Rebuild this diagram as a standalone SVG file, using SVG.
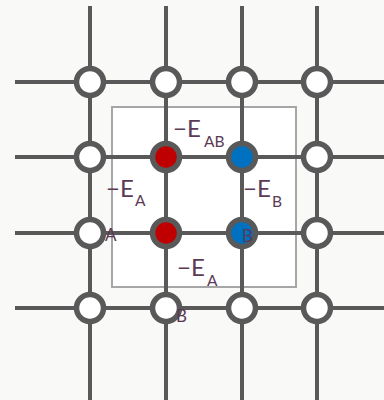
<svg xmlns="http://www.w3.org/2000/svg" width="384" height="400" viewBox="0 0 384 400">
<style>
.bg{fill:#f9f9f8}
.box{fill:#ffffff;stroke:#a6a6a6;stroke-width:2}
.ln{stroke:#595959;stroke-width:4;fill:none}
.site{fill:#ffffff;stroke:#595959;stroke-width:5.5}
.red{fill:#c00000;stroke:#595959;stroke-width:5.5}
.blue{fill:#0070c0;stroke:#595959;stroke-width:5.5}
.t{font-family:Lato,"Open Sans","Liberation Sans",sans-serif;fill:#5b3a55}
.big{font-size:24px}
.sub{font-size:15.5px}
.sm{font-size:17px}
</style>
<rect class="bg" x="0" y="0" width="384" height="400"/>
<rect class="box" x="112" y="107" width="184" height="180"/>
<g id="connectors">
<line class="ln" x1="90" y1="6" x2="90" y2="400"/>
<line class="ln" x1="166" y1="6" x2="166" y2="400"/>
<line class="ln" x1="242" y1="6" x2="242" y2="400"/>
<line class="ln" x1="317" y1="6" x2="317" y2="400"/>
<line class="ln" x1="15" y1="82" x2="384" y2="82"/>
<line class="ln" x1="15" y1="157" x2="384" y2="157"/>
<line class="ln" x1="15" y1="233" x2="384" y2="233"/>
<line class="ln" x1="15" y1="308" x2="384" y2="308"/>
</g>
<g id="n11"><circle class="site" cx="90" cy="82" r="13.5"/></g>
<g id="n12"><circle class="site" cx="166" cy="82" r="13.5"/></g>
<g id="n13"><circle class="site" cx="242" cy="82" r="13.5"/></g>
<g id="n14"><circle class="site" cx="317" cy="82" r="13.5"/></g>
<g id="n21"><circle class="site" cx="90" cy="157" r="13.5"/></g>
<g id="n22"><circle class="red" cx="166" cy="157" r="13.5"/></g>
<g id="n23"><circle class="blue" cx="242" cy="157" r="13.5"/></g>
<g id="n24"><circle class="site" cx="317" cy="157" r="13.5"/></g>
<g id="n31"><circle class="site" cx="90" cy="233" r="13.5"/><text class="t sm" x="105" y="241">A</text></g>
<g id="n32"><circle class="red" cx="166" cy="233" r="13.5"/></g>
<g id="n33"><circle class="blue" cx="242" cy="233" r="13.5"/><text class="t sm" x="242" y="242">B</text></g>
<g id="n34"><circle class="site" cx="317" cy="233" r="13.5"/></g>
<g id="n41"><circle class="site" cx="90" cy="308" r="13.5"/></g>
<g id="n42"><circle class="site" cx="166" cy="308" r="13.5"/><text class="t sm" x="176" y="322">B</text></g>
<g id="n43"><circle class="site" cx="242" cy="308" r="13.5"/></g>
<g id="n44"><circle class="site" cx="317" cy="308" r="13.5"/></g>
<g id="labels">
<text class="t big" x="173" y="137">−E</text><text class="t sub" x="204" y="147">AB</text>
<text class="t big" x="106" y="197">−E</text><text class="t sub" x="135" y="206">A</text>
<text class="t big" x="243" y="197">−E</text><text class="t sub" x="272" y="207">B</text>
<text class="t big" x="177" y="276">−E</text><text class="t sub" x="207" y="286">A</text>
</g>
</svg>
